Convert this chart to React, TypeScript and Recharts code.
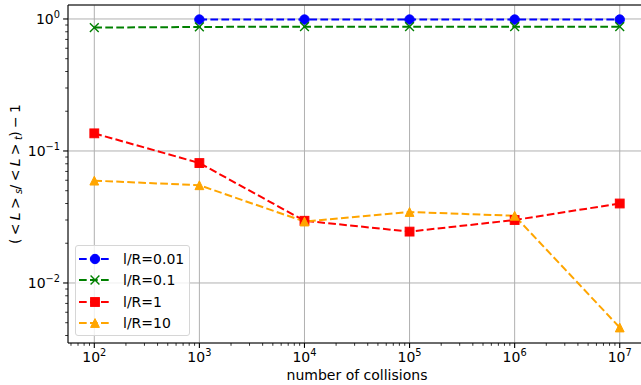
import React from 'react';
import { LineChart, Line, XAxis, YAxis, CartesianGrid, Legend, ReferenceLine } from 'recharts';

const collisions = [1e2, 1e3, 1e4, 1e5, 1e6, 1e7];
const lr001 = [null, 0.99, 0.99, 0.99, 0.99, 0.99];
const lr01 = [0.86, 0.87, 0.875, 0.875, 0.875, 0.875];
const lr1 = [0.136, 0.081, 0.0296, 0.0245, 0.03, 0.04];
const lr10 = [0.0596, 0.055, 0.0292, 0.0345, 0.0323, 0.0046];

const xMajor = [1e2, 1e3, 1e4, 1e5, 1e6, 1e7];
const yMajor = [1e-2, 1e-1, 1];
const xDomain = [56.2, 1.778e7];
const yDomain = [0.00351, 1.276];

// minor ticks at 2..9 x each decade, kept inside the domain
const minors = (lo: number, hi: number) => {
  const out: number[] = [];
  for (let e = -3; e <= 7; e++) {
    for (let m = 2; m <= 9; m++) {
      const v = m * Math.pow(10, e);
      if (v >= lo && v <= hi) out.push(v);
    }
  }
  return out;
};
const xTicks = [...xMajor, ...minors(xDomain[0], xDomain[1])];
const yTicks = [...yMajor, ...minors(yDomain[0], yDomain[1])];

const series = [
  { key: 'lr001', name: 'l/R=0.01', color: '#0000ff', shape: 'circle' },
  { key: 'lr01', name: 'l/R=0.1', color: '#008000', shape: 'x' },
  { key: 'lr1', name: 'l/R=1', color: '#ff0000', shape: 'square' },
  { key: 'lr10', name: 'l/R=10', color: '#ffa500', shape: 'triangle' },
];

const data = collisions.map((n, i) => ({
  n,
  lr001: lr001[i],
  lr01: lr01[i],
  lr1: lr1[i],
  lr10: lr10[i],
}));

const FONT = '"DejaVu Sans", sans-serif';
const DASH = '7.7 3.3';

const expOf = (v: number) => {
  const e = Math.round(Math.log10(v));
  return e < 0 ? `\u2212${-e}` : `${e}`;
};
const isMajor = (list: number[], v: number) => list.some(m => Math.abs(m - v) / m < 1e-9);

const Marker = ({ shape, color, cx, cy }: any) => {
  const s = 4.4;
  if (shape === 'circle') return <circle cx={cx} cy={cy} r={4.7} fill={color} stroke={color} strokeWidth={1} />;
  if (shape === 'x')
    return (
      <path
        d={`M${cx - s},${cy - s}L${cx + s},${cy + s}M${cx - s},${cy + s}L${cx + s},${cy - s}`}
        stroke={color}
        strokeWidth={1.4}
        fill="none"
      />
    );
  if (shape === 'square')
    return <rect x={cx - s} y={cy - s} width={2 * s} height={2 * s} fill={color} stroke={color} strokeWidth={1} />;
  return (
    <path d={`M${cx},${cy - s}L${cx + s},${cy + s}L${cx - s},${cy + s}Z`} fill={color} stroke={color} strokeWidth={1} />
  );
};

const XTick = (props: any) => {
  const { x, y, payload } = props;
  const major = isMajor(xMajor, payload.value);
  return (
    <g>
      <line x1={x} y1={y} x2={x} y2={y + (major ? 4.9 : 2.8)} stroke="#000" strokeWidth={major ? 1.1 : 0.8} />
      {major && (
        <text x={x} y={y + 19} textAnchor="middle" fontSize={14} fill="#000" fontFamily={FONT}>
          10<tspan dy={-6.5} fontSize={9.8}>{expOf(payload.value)}</tspan>
        </text>
      )}
    </g>
  );
};

const YTick = (props: any) => {
  const { x, y, payload } = props;
  const major = isMajor(yMajor, payload.value);
  return (
    <g>
      <line x1={x - (major ? 4.9 : 2.8)} y1={y} x2={x} y2={y} stroke="#000" strokeWidth={major ? 1.1 : 0.8} />
      {major && (
        <text x={x - 8} y={y + 5.5} textAnchor="end" fontSize={14} fill="#000" fontFamily={FONT}>
          10<tspan dy={-6.5} fontSize={9.8}>{expOf(payload.value)}</tspan>
        </text>
      )}
    </g>
  );
};

const YLabel = (props: any) => {
  const vb = props.viewBox || { x: 0, y: 5, width: 68, height: 338 };
  const cx = vb.x + 15;
  const cy = vb.y + vb.height / 2;
  return (
    <text
      x={cx}
      y={cy}
      transform={`rotate(-90 ${cx} ${cy})`}
      textAnchor="middle"
      dominantBaseline="central"
      fontSize={14}
      fill="#000"
      fontFamily={FONT}
      textLength={140}
      lengthAdjust="spacing"
    >
      {'( < '}
      <tspan fontStyle="italic">L</tspan>
      {' > '}
      <tspan fontStyle="italic" fontSize={9.8} dy={3}>s</tspan>
      <tspan dy={-3}>{'/ < '}</tspan>
      <tspan fontStyle="italic">L</tspan>
      {' > '}
      <tspan fontStyle="italic" fontSize={9.8} dy={3}>t</tspan>
      <tspan dy={-3}>{') \u2212 1'}</tspan>
    </text>
  );
};

const LegendBox = () => (
  <div
    style={{
      width: 115,
      height: 91,
      boxSizing: 'border-box',
      border: '1px solid #d6d6d6',
      borderRadius: 3,
      background: 'rgba(255,255,255,0.8)',
      fontFamily: FONT,
      fontSize: 14,
      position: 'relative',
    }}
  >
    {series.map((s, i) => (
      <div
        key={s.key}
        style={{ position: 'absolute', left: 2, top: 5 + i * 21.3, height: 16, display: 'flex', alignItems: 'center' }}
      >
        <svg width={33} height={16}>
          <line x1={1} y1={8} x2={33} y2={8} stroke={s.color} strokeWidth={2} strokeDasharray={DASH} />
          <Marker shape={s.shape} color={s.color} cx={17} cy={8} />
        </svg>
        <span style={{ marginLeft: 12, color: '#000', lineHeight: '16px' }}>{s.name}</span>
      </div>
    ))}
  </div>
);

export default function App() {
  return (
    <div style={{ position: 'absolute', left: 0, top: 0, width: 641, height: 385, overflow: 'hidden', background: '#fff', fontFamily: FONT }}>
      <LineChart width={650} height={385} data={data} margin={{ top: 5, right: 4, bottom: 0, left: 0 }}>
        <XAxis xAxisId="grid" hide dataKey="n" type="number" scale="log" domain={xDomain} allowDataOverflow ticks={xMajor} />
        <YAxis yAxisId="grid" hide type="number" scale="log" domain={yDomain} allowDataOverflow ticks={yMajor} />
        <CartesianGrid xAxisId="grid" yAxisId="grid" stroke="#b0b0b0" strokeWidth={1} />
        <XAxis
          dataKey="n"
          type="number"
          scale="log"
          domain={xDomain}
          allowDataOverflow
          ticks={xTicks}
          interval={0}
          height={42}
          tickSize={0}
          tickMargin={0}
          tickLine={false}
          tick={<XTick />}
          axisLine={{ stroke: '#000', strokeWidth: 1 }}
          label={{ value: 'number of collisions', position: 'insideBottom', offset: 5, fontSize: 14, fill: '#000', fontFamily: FONT }}
        />
        <YAxis
          type="number"
          scale="log"
          domain={yDomain}
          allowDataOverflow
          ticks={yTicks}
          interval={0}
          width={68}
          tickSize={0}
          tickMargin={0}
          tickLine={false}
          tick={<YTick />}
          axisLine={{ stroke: '#000', strokeWidth: 1 }}
          label={{ content: YLabel }}
        />
        <ReferenceLine y={yDomain[1]} stroke="#000" strokeWidth={1} ifOverflow="visible" />
        {series.map(s => (
          <Line
            key={s.key}
            dataKey={s.key}
            name={s.name}
            type="linear"
            stroke={s.color}
            strokeWidth={2}
            strokeDasharray={DASH}
            isAnimationActive={false}
            dot={(p: any) =>
              p.value == null || p.cy == null ? (
                <g key={`${s.key}-${p.index}`} />
              ) : (
                <Marker key={`${s.key}-${p.index}`} shape={s.shape} color={s.color} cx={p.cx} cy={p.cy} />
              )
            }
          />
        ))}
        <Legend
          layout="vertical"
          align="center"
          verticalAlign="middle"
          content={<LegendBox />}
          wrapperStyle={{ left: 75, top: 245, width: 115, height: 91 }}
        />
      </LineChart>
    </div>
  );
}
